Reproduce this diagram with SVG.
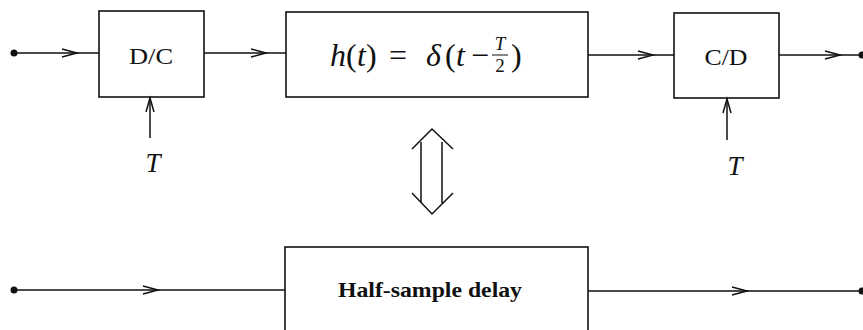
<svg xmlns="http://www.w3.org/2000/svg" width="863" height="330" viewBox="0 0 863 330">
<style>
.box{fill:none;stroke:#111;stroke-width:1.6}
.ln{fill:none;stroke:#111;stroke-width:1.5}
.ah{fill:none;stroke:#111;stroke-width:1.5;stroke-linejoin:miter}
.dot{fill:#111}
.rm{font-family:"Liberation Serif",serif;fill:#111}
.it{font-family:"Liberation Serif",serif;font-style:italic;fill:#111}
</style>
<rect width="863" height="330" fill="#fff"/>
<g id="connectors">
  <line class="ln" x1="14" y1="53" x2="99" y2="53"/>
  <polyline class="ah" points="62,49 77,53 62,57"/>
  <line class="ln" x1="204" y1="53" x2="286" y2="53"/>
  <polyline class="ah" points="251,49 266,53 251,57"/>
  <line class="ln" x1="588" y1="55" x2="674" y2="55"/>
  <polyline class="ah" points="638,51 653,55 638,59"/>
  <line class="ln" x1="779" y1="55" x2="862" y2="55"/>
  <polyline class="ah" points="825,51 840,55 825,59"/>
  <line class="ln" x1="150" y1="138" x2="150" y2="97"/>
  <polyline class="ah" points="146,112 150,98 154,112"/>
  <line class="ln" x1="727" y1="140" x2="727" y2="98"/>
  <polyline class="ah" points="723,113 727,99 731,113"/>
  <line class="ln" x1="14" y1="290" x2="285" y2="290"/>
  <polyline class="ah" points="143,286 158,290 143,294"/>
  <line class="ln" x1="588" y1="291" x2="862" y2="291"/>
  <polyline class="ah" points="732,287 747,291 732,295"/>
  <path class="ln" d="M421,142 V203 M442,142 V203 M412,149 L432,129 L453,149 M412,193 L432,214 L453,193"/>
</g>
<circle class="dot" cx="14" cy="53" r="3.5"/>
<circle class="dot" cx="862" cy="55" r="3.5"/>
<circle class="dot" cx="14" cy="290" r="3.5"/>
<circle class="dot" cx="862" cy="291" r="3.5"/>
<g id="dc">
  <rect class="box" x="99" y="11" width="105" height="86"/>
  <text class="rm" x="151" y="64" font-size="24" text-anchor="middle" textLength="44" lengthAdjust="spacingAndGlyphs">D/C</text>
  <text class="it" x="153" y="172" font-size="27" text-anchor="middle">T</text>
</g>
<g id="h">
  <rect class="box" x="286" y="12" width="302" height="85"/>
  <text class="it" x="330" y="66" font-size="32">h</text>
  <text class="rm" x="346" y="66" font-size="32">(</text>
  <text class="it" x="357" y="66" font-size="32">t</text>
  <text class="rm" x="366" y="66" font-size="32">)</text>
  <text class="rm" x="389" y="66" font-size="32">=</text>
  <text class="it" x="426" y="66" font-size="32">δ</text>
  <text class="rm" x="445" y="66" font-size="32">(</text>
  <text class="it" x="456" y="66" font-size="32">t</text>
  <text class="rm" x="471" y="66" font-size="32">−</text>
  <text class="it" x="500" y="50" font-size="19" text-anchor="middle">T</text>
  <line x1="492" y1="55" x2="508" y2="55" stroke="#111" stroke-width="1"/>
  <text class="rm" x="500" y="72" font-size="19" text-anchor="middle">2</text>
  <text class="rm" x="511" y="66" font-size="32">)</text>
</g>
<g id="cd">
  <rect class="box" x="674" y="13" width="105" height="85"/>
  <text class="rm" x="726" y="65" font-size="24" text-anchor="middle" textLength="43" lengthAdjust="spacingAndGlyphs">C/D</text>
  <text class="it" x="735" y="175" font-size="27" text-anchor="middle">T</text>
</g>
<g id="delay">
  <rect class="box" x="285" y="247" width="303" height="100"/>
  <text class="rm" x="338" y="297" font-size="21" font-weight="bold" textLength="184" lengthAdjust="spacingAndGlyphs">Half-sample delay</text>
</g>
</svg>
